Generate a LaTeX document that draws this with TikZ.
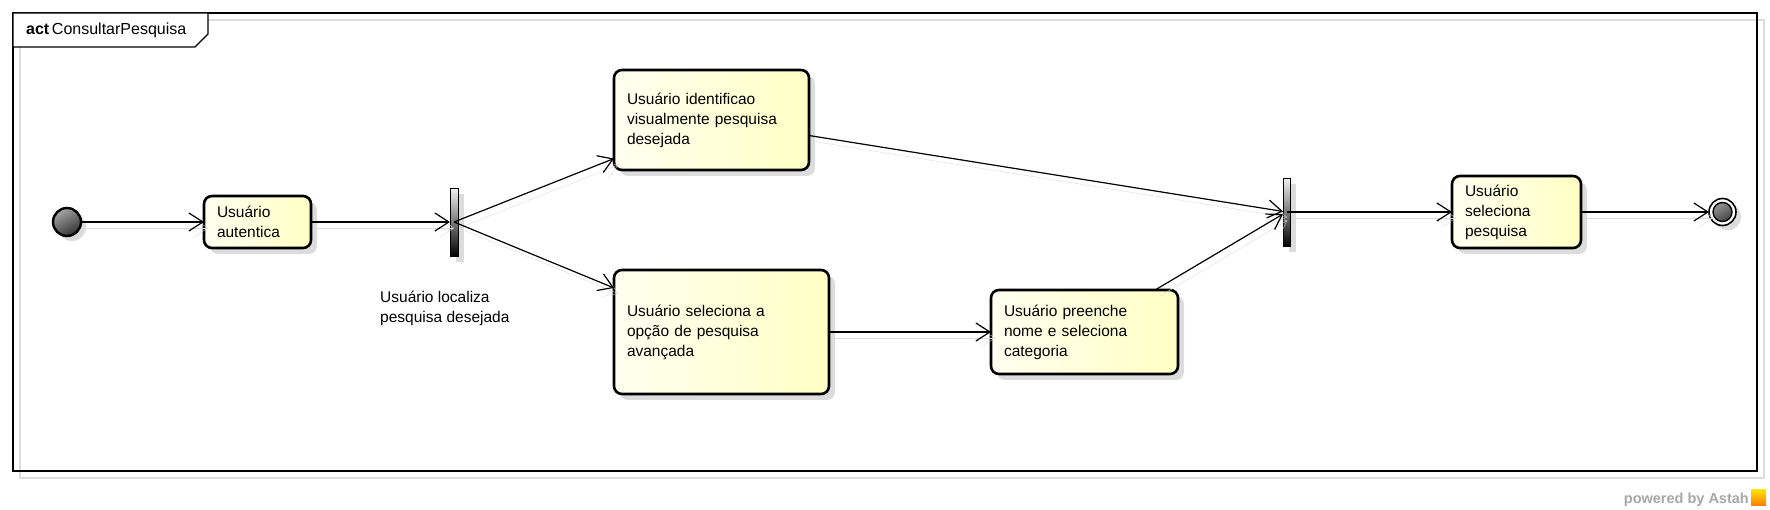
\documentclass[tikz,border=0pt]{standalone}
\usepackage{fontspec}
\setmainfont{Liberation Sans}
\usepackage{xcolor}
\usetikzlibrary{shapes, arrows.meta, positioning, shadows}
\definecolor{actyellow}{HTML}{FFFFC4}
\definecolor{shadowgray}{HTML}{DCDCDC}

\begin{document}
\begin{tikzpicture}[x=1pt, y=-1pt,
        every node/.style={font=\fontsize{15.5}{20}\selectfont},
        action/.style={rectangle, rounded corners=8pt, draw, line width=2.6pt, outer sep=0pt,
            inner xsep=13pt, inner ysep=0pt, align=left,
            left color=actyellow!25!white, right color=actyellow,
            drop shadow={shadow xshift=6pt, shadow yshift=-6pt, fill=shadowgray, opacity=1}},
        bar/.style={rectangle, draw, line width=0.8pt, outer sep=0pt, inner sep=0pt,
            minimum width=8pt, minimum height=68pt, top color=black!5, middle color=black!50, bottom color=black,
            drop shadow={shadow xshift=6pt, shadow yshift=-6pt, fill=shadowgray, opacity=1}},
        flow/.style={-{Straight Barb[length=14pt, width=18pt]}, line width=1.2pt,
            preaction={draw=shadowgray, transform canvas={xshift=5pt, yshift=-6pt}}}]
        \useasboundingbox (0,0) rectangle (1770,510);

        % frame
        \draw[shadowgray, line width=1.2pt] (20,20) rectangle (1764,478);
        \draw[line width=1.4pt] (13,13) rectangle (1757,471);
        \filldraw[fill=white, line width=1.4pt] (13,13) -- (208,13) -- (208,34) -- (195,47) -- (13,47) -- cycle;
        \node (title) [anchor=west, inner sep=0pt, font=\fontsize{16}{20}\selectfont] at (26,30) {\textbf{act}\,ConsultarPesquisa};

        \node (start) [circle, draw, line width=2.4pt, minimum size=28pt, inner sep=0pt, outer sep=0pt,
            top color=black!35, bottom color=black!80, shading angle=30,
            drop shadow={shadow xshift=5pt, shadow yshift=-5pt, fill=shadowgray, opacity=1}] at (67,222) {};
        \node (auth) [action, text width=81pt, minimum height=52pt, right=123pt of start] {Usuário\\autentica};
        \node (fork1) [bar, right=139pt of auth] {};
        \node (forklbl) [anchor=west, align=left, inner sep=0pt] at (380,308) {Usuário localiza\\pesquisa desejada};
        \node (ident) [action, text width=169pt, minimum height=100pt] at (711.5,120) {Usuário identificao\\visualmente pesquisa\\desejada};
        \node (option) [action, text width=189pt, minimum height=124pt] at (721.5,332) {Usuário seleciona a\\opção de pesquisa\\avançada};
        \node (fill) [action, text width=161pt, minimum height=84pt] at (1084.5,332) {Usuário preenche\\nome e seleciona\\categoria};
        \node (fork2) [bar, minimum width=7pt] at (1286.5,212) {};
        \node (choose) [action, text width=103pt, minimum height=72pt, right=162pt of fork2] {Usuário\\seleciona\\pesquisa};
        \node (end) [circle, draw, line width=1.6pt, fill=white, minimum size=27pt, inner sep=0pt, outer sep=0pt,
            drop shadow={shadow xshift=5pt, shadow yshift=-5pt, fill=shadowgray, opacity=1},
            right=128pt of choose,
            path picture={\filldraw[top color=black!35, bottom color=black!80, shading angle=30, line width=1.4pt]
                (path picture bounding box.center) circle (9.5pt);}] {};

        \draw[flow] (start) -- (auth);
        \draw[flow] (auth) -- (fork1);
        \draw[flow] (fork1.center) -- (ident);
        \draw[flow] (fork1.center) -- (option);
        \draw[flow] (ident) -- (fork2);
        \draw[flow] (option) -- (fill);
        \draw[flow] (fill) -- (fork2);
        \draw[flow] (fork2.center) -- (choose);
        \draw[flow] (choose) -- (end);

        % watermark
        \node (powered) [anchor=base east, inner sep=0pt, text=black!35, font=\fontsize{14.5}{16}\bfseries] at (1749,503) {powered by Astah};
        \shade[top color=yellow!80!orange, bottom color=orange] (1751,489) rectangle (1766,505);
    \end{tikzpicture}
\end{document}
